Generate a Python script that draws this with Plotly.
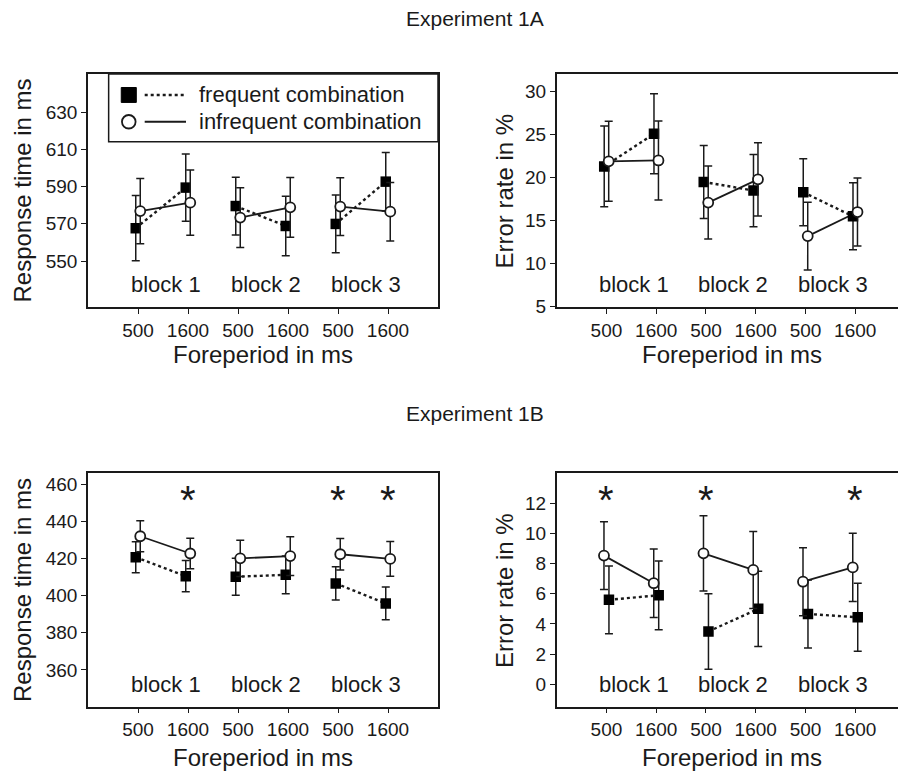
import plotly.graph_objects as go

# ---------------- data ----------------
foreperiod_labels = ["500", "1600", "500", "1600", "500", "1600"]
block_labels = ["block 1", "block 2", "block 3"]
series_names = ["frequent combination", "infrequent combination"]

# Experiment 1A - response time (ms)
rt1a_freq = [567.6, 589.4, 579.5, 568.8, 569.9, 592.6]
rt1a_freq_err = [17.5, 18.0, 15.5, 16.0, 15.5, 15.7]
rt1a_inf = [576.8, 581.3, 573.3, 578.8, 579.2, 576.5]
rt1a_inf_err = [17.5, 17.5, 16.0, 16.0, 15.5, 15.7]

# Experiment 1A - error rate (%)
er1a_freq = [21.3, 25.1, 19.5, 18.5, 18.3, 15.5]
er1a_freq_err = [4.7, 4.65, 4.25, 4.2, 3.9, 3.9]
er1a_inf = [21.9, 22.0, 17.1, 19.8, 13.2, 16.0]
er1a_inf_err = [4.65, 4.6, 4.25, 4.25, 3.95, 3.95]

# Experiment 1B - response time (ms)
rt1b_freq = [420.7, 410.5, 410.2, 411.2, 406.6, 395.8]
rt1b_freq_err = [8.3, 8.4, 10.0, 10.2, 9.0, 8.8]
rt1b_inf = [432.0, 422.7, 420.1, 421.3, 422.3, 419.8]
rt1b_inf_err = [8.3, 8.2, 9.8, 10.4, 8.5, 9.4]

# Experiment 1B - error rate (%)
er1b_freq = [5.6, 5.9, 3.5, 5.0, 4.66, 4.44]
er1b_freq_err = [2.25, 2.28, 2.5, 2.5, 2.25, 2.25]
er1b_inf = [8.53, 6.70, 8.68, 7.58, 6.8, 7.75]
er1b_inf_err = [2.25, 2.27, 2.5, 2.55, 2.25, 2.27]

# significance asterisks (category index 1..6)
sig1b_rt = [2, 5, 6]
sig1b_er = [1, 3, 6]

# ---------------- figure ----------------
FONT = "Liberation Sans, Arial, Helvetica, sans-serif"
INK = "#1a1a1a"
fig = go.Figure()

cat_pos = list(range(1, len(foreperiod_labels) + 1))

# the page body has an 8px margin; size the figure so it fills the window
OFF = 8
W, H = 906 - OFF, 773 - OFF


def px_x(x):
    return (x - OFF) / W


def px_y(y):
    return 1 - (y - OFF) / H


def gapped(xs, ys):
    gx, gy = [], []
    for i in range(0, len(xs), 2):
        gx += [xs[i], xs[i + 1], None]
        gy += [ys[i], ys[i + 1], None]
    return gx, gy


def add_panel(n, freq, freq_err, inf, inf_err, sq_off, ci_off):
    xa = "x" if n == 1 else f"x{n}"
    ya = "y" if n == 1 else f"y{n}"
    xs_f = [p + sq_off for p in cat_pos]
    xs_i = [p + ci_off for p in cat_pos]
    lx, ly = gapped(xs_f, freq)
    fig.add_trace(go.Scatter(x=lx, y=ly, mode="lines", xaxis=xa, yaxis=ya,
                             line=dict(color=INK, width=2.4, dash="dot"),
                             showlegend=False, hoverinfo="skip"))
    lx, ly = gapped(xs_i, inf)
    fig.add_trace(go.Scatter(x=lx, y=ly, mode="lines", xaxis=xa, yaxis=ya,
                             line=dict(color=INK, width=1.8),
                             showlegend=False, hoverinfo="skip"))
    fig.add_trace(go.Scatter(x=xs_f, y=freq, mode="markers", xaxis=xa, yaxis=ya,
                             name=series_names[0],
                             marker=dict(symbol="square", size=10.5, color="black"),
                             error_y=dict(type="data", array=freq_err, color=INK,
                                          thickness=1.5, width=4),
                             showlegend=False))
    fig.add_trace(go.Scatter(x=xs_i, y=inf, mode="markers", xaxis=xa, yaxis=ya,
                             name=series_names[1],
                             marker=dict(symbol="circle", size=10, color="white",
                                         line=dict(color=INK, width=1.8)),
                             error_y=dict(type="data", array=inf_err, color=INK,
                                          thickness=1.5, width=4),
                             showlegend=False))


add_panel(1, rt1a_freq, rt1a_freq_err, rt1a_inf, rt1a_inf_err, -0.045, 0.045)
add_panel(2, er1a_freq, er1a_freq_err, er1a_inf, er1a_inf_err, -0.045, 0.045)
add_panel(3, rt1b_freq, rt1b_freq_err, rt1b_inf, rt1b_inf_err, -0.045, 0.045)
add_panel(4, er1b_freq, er1b_freq_err, er1b_inf, er1b_inf_err, 0.05, -0.05)

left_dom = [px_x(88), px_x(438)]
right_dom = [px_x(556.7), px_x(905)]
top_dom = [px_y(307), px_y(74)]
bot_dom = [px_y(706.7), px_y(473.3)]

axis_common = dict(showline=True, linecolor=INK, linewidth=1.5, mirror=True,
                   ticks="outside", ticklen=5, tickwidth=1.2, tickcolor=INK,
                   showgrid=False, zeroline=False,
                   tickfont=dict(family=FONT, size=19, color=INK))
xaxis_common = dict(axis_common, range=[0, 7], tickmode="array",
                    tickvals=cat_pos, ticktext=foreperiod_labels)

layout = dict(
    width=W, height=H, margin=dict(l=0, r=0, t=0, b=0, autoexpand=False),
    paper_bgcolor="white", plot_bgcolor="white", showlegend=False,
    font=dict(family=FONT, color=INK),
    xaxis=dict(xaxis_common, domain=left_dom, anchor="y"),
    yaxis=dict(axis_common, domain=top_dom, anchor="x", range=[525.3, 650.4],
               tickvals=[550, 570, 590, 610, 630]),
    xaxis2=dict(xaxis_common, domain=right_dom, anchor="y2"),
    yaxis2=dict(axis_common, domain=top_dom, anchor="x2", range=[4.95, 32.06],
                tickvals=[5, 10, 15, 20, 25, 30]),
    xaxis3=dict(xaxis_common, domain=left_dom, anchor="y3"),
    yaxis3=dict(axis_common, domain=bot_dom, anchor="x3", range=[340.2, 465.9],
                tickvals=[360, 380, 400, 420, 440, 460]),
    xaxis4=dict(xaxis_common, domain=right_dom, anchor="y4"),
    yaxis4=dict(axis_common, domain=bot_dom, anchor="x4", range=[-1.49, 13.99],
                tickvals=[0, 2, 4, 6, 8, 10, 12]),
)
fig.update_layout(**layout)

ann = []


def text_ann(text, x, y, size, angle=0):
    return dict(text=text, x=px_x(x), y=px_y(y), xref="paper", yref="paper",
                xanchor="center", yanchor="middle", textangle=angle,
                showarrow=False, font=dict(size=size, family=FONT, color=INK))


# panel titles
ann.append(text_ann("Experiment 1A", 475, 19, 21))
ann.append(text_ann("Experiment 1B", 475, 413, 21))
# axis titles
for t, px, py in [("Response time in ms", 22, 190.5), ("Error rate in %", 504, 190.5),
                  ("Response time in ms", 22, 590), ("Error rate in %", 504, 590)]:
    ann.append(text_ann(t, px, py, 24, -90))
for px, py in [(263, 355), (731.5, 355), (263, 757), (731.5, 757)]:
    ann.append(text_ann("Foreperiod in ms", px, py, 24))
# block labels
for n in range(1, 5):
    xa = "x" if n == 1 else f"x{n}"
    ya = "y" if n == 1 else f"y{n}"
    for b, lab in enumerate(block_labels):
        ann.append(dict(text=lab, x=cat_pos[2 * b] + 0.55, xref=xa, xanchor="center",
                        y=0.097, yref=f"{ya} domain", yanchor="middle",
                        showarrow=False, font=dict(size=22, family=FONT, color=INK)))
# asterisks
for n, sig in ((3, sig1b_rt), (4, sig1b_er)):
    for s in sig:
        ann.append(dict(text="*", x=s, xref=f"x{n}", xanchor="center",
                        y=0.885, yref=f"y{n} domain", yanchor="middle",
                        showarrow=False, font=dict(size=40, family=FONT, color=INK)))
# legend text
legend_rows = [0.910, 0.795]
for name, yy in zip(series_names, legend_rows):
    ann.append(dict(text=name, x=0.312, xref="x domain", y=yy, yref="y domain",
                    xanchor="left", yanchor="middle", showarrow=False,
                    font=dict(size=22, family=FONT, color=INK)))
fig.update_layout(annotations=ann)

# legend decorations (box, samples)
shapes = [
    dict(type="rect", xref="x domain", yref="y domain", x0=0.059, x1=1.0, y0=0.709, y1=1.0,
         line=dict(color=INK, width=1.5), fillcolor="white", layer="below"),
    dict(type="rect", xref="x domain", yref="y domain", x0=0.095, x1=0.138,
         y0=0.878, y1=0.942, line=dict(color="black", width=1), fillcolor="black"),
    dict(type="line", xref="x domain", yref="y domain", x0=0.162, x1=0.28,
         y0=0.910, y1=0.910, line=dict(color=INK, width=2.4, dash="dot")),
    dict(type="circle", xref="x domain", yref="y domain", x0=0.097, x1=0.136,
         y0=0.766, y1=0.824, line=dict(color=INK, width=1.8), fillcolor="white"),
    dict(type="line", xref="x domain", yref="y domain", x0=0.162, x1=0.28,
         y0=0.795, y1=0.795, line=dict(color=INK, width=1.8)),
]
fig.update_layout(shapes=shapes)

fig.write_html("out.html")
